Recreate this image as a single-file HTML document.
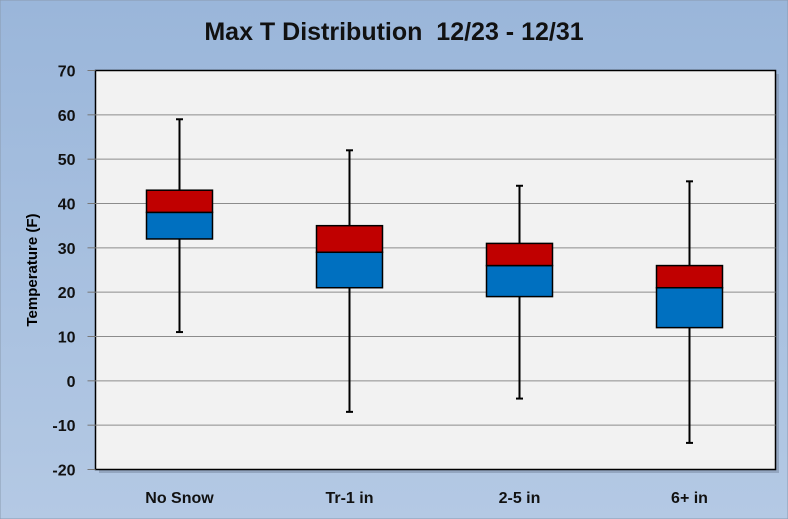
<!DOCTYPE html>
<html><head><meta charset="utf-8"><style>
body{margin:0;width:788px;height:519px;overflow:hidden}
svg{display:block;font-family:"Liberation Sans",sans-serif}
</style></head><body>
<svg width="788" height="519">
<defs><linearGradient id="bg" x1="0" y1="0" x2="0" y2="1"><stop offset="0" stop-color="#9ab6da"/><stop offset="1" stop-color="#b4c9e4"/></linearGradient></defs>
<rect x="0" y="0" width="788" height="519" fill="url(#bg)" stroke="#8a9bb0"/>
<text x="394" y="40" text-anchor="middle" font-size="25" font-weight="bold" fill="#111" style="white-space:pre">Max T Distribution  12/23 - 12/31</text>
<rect x="99" y="74" width="680" height="399" fill="#7f8fa8" opacity="0.6"/>
<rect x="95.5" y="70.5" width="680" height="399" fill="#f2f2f2" stroke="#000" stroke-width="1.5"/>
<g id="grid"></g><g id="boxes"></g><g id="labels"></g>
<text transform="translate(37,270) rotate(-90)" text-anchor="middle" font-size="15" font-weight="bold">Temperature (F)</text>
</svg>
<script>
const categories=["No Snow","Tr-1 in","2-5 in","6+ in"];
const mins=[11,-7,-4,-14];
const q1s=[32,21,19,12];
const medians=[38,29,26,21];
const q3s=[43,35,31,26];
const maxs=[59,52,44,45];
const yTicks=[-20,-10,0,10,20,30,40,50,60,70];
const NS="http://www.w3.org/2000/svg";
const L=95.5,R=775.5,T=70.5,B=469.5;
const y=v=>B-(v+20)/90*(B-T);
const xc=i=>L-1+(i+0.5)*(R-L)/categories.length;
function mk(tag,attrs,parent){const e=document.createElementNS(NS,tag);for(const k in attrs)e.setAttribute(k,attrs[k]);parent.appendChild(e);return e;}
const grid=document.getElementById('grid'),boxes=document.getElementById('boxes'),labels=document.getElementById('labels');
yTicks.forEach(t=>{
 const yy=y(t);
 if(t>-20&&t<70){const g=mk('line',{x1:L,x2:R,y1:yy,y2:yy,stroke:'#8c8c8c','stroke-width':1},grid);}
 const tk=mk('line',{x1:L-8,x2:L,y1:yy,y2:yy,stroke:'#777','stroke-width':1},grid);
 
 const tx=mk('text',{x:L-20,y:yy+6,'text-anchor':'end','font-size':16,'font-weight':'bold',fill:'#111'},labels);
 tx.textContent=t;
});
const bw=66;
categories.forEach((c,i)=>{
 const x=xc(i);
 const w=mk('line',{x1:x,x2:x,y1:y(maxs[i]),y2:y(mins[i]),stroke:'#000','stroke-width':2},boxes);
 
 [maxs[i],mins[i]].forEach(v=>{const cp=mk('line',{x1:x-3.5,x2:x+3.5,y1:y(v),y2:y(v),stroke:'#000','stroke-width':2},boxes);});
 const lo=mk('rect',{x:x-bw/2,y:y(medians[i]),width:bw,height:y(q1s[i])-y(medians[i]),fill:'#0070c0',stroke:'#000','stroke-width':1.5},boxes);
 
 const hi=mk('rect',{x:x-bw/2,y:y(q3s[i]),width:bw,height:y(medians[i])-y(q3s[i]),fill:'#c00000',stroke:'#000','stroke-width':1.5},boxes);
 
 const tx=mk('text',{x:x,y:503,'text-anchor':'middle','font-size':16,'font-weight':'bold',fill:'#111'},labels);
 tx.textContent=c;
});
</script>
</body></html>
